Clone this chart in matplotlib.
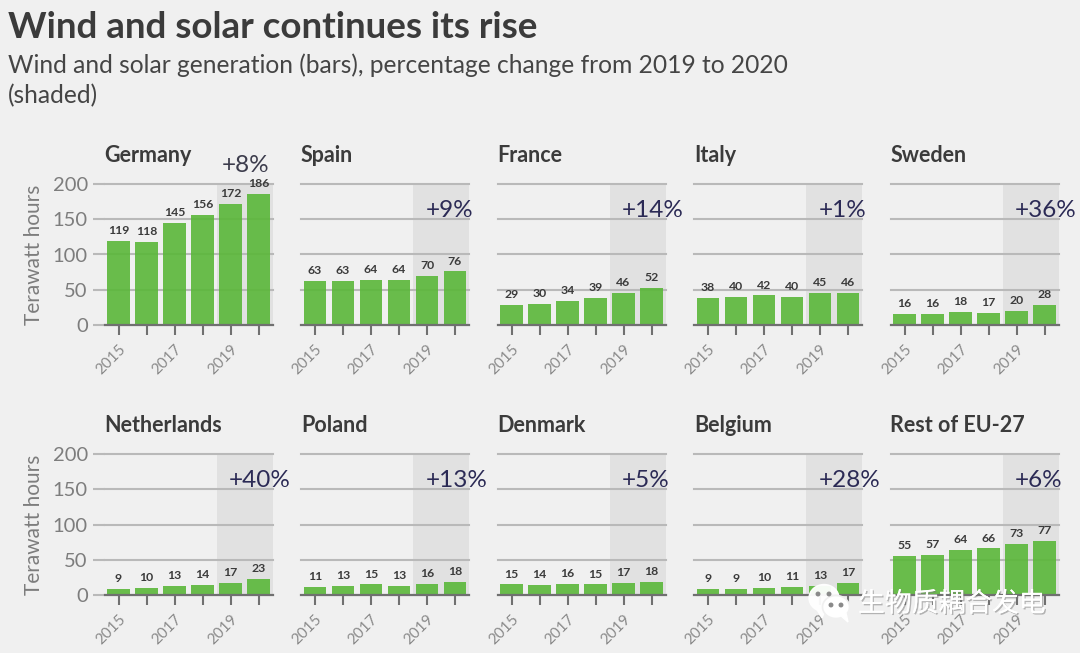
import matplotlib
matplotlib.use("Agg")
import matplotlib.pyplot as plt
import matplotlib.patheffects as pe
from matplotlib.patches import Ellipse, Polygon

plt.rcParams['font.family'] = ['Lato', 'Noto Sans CJK SC', 'DejaVu Sans']

W, H = 1080, 653

years = [2015, 2016, 2017, 2018, 2019, 2020]
year_ticks = [2015, 2017, 2019]
y_ticks = [0, 50, 100, 150, 200]

countries = ["Germany", "Spain", "France", "Italy", "Sweden",
             "Netherlands", "Poland", "Denmark", "Belgium", "Rest of EU-27"]
germany = [119, 118, 145, 156, 172, 186]
spain = [63, 63, 64, 64, 70, 76]
france = [29, 30, 34, 39, 46, 52]
italy = [38, 40, 42, 40, 45, 46]
sweden = [16, 16, 18, 17, 20, 28]
netherlands = [9, 10, 13, 14, 17, 23]
poland = [11, 13, 15, 13, 16, 18]
denmark = [15, 14, 16, 15, 17, 18]
belgium = [9, 9, 10, 11, 13, 17]
rest_eu = [55, 57, 64, 66, 73, 77]
changes = ["+8%", "+9%", "+14%", "+1%", "+36%", "+40%", "+13%", "+5%", "+28%", "+6%"]
series = [germany, spain, france, italy, sweden, netherlands, poland, denmark, belgium, rest_eu]

BG = "#f0f0f0"
GREEN = "#5ab739"
GRID = "#b9b9b9"
SHADE = "#e1e1e1"
DARK = "#3b3b3b"
GREY = "#7d7d7d"
NAVY = "#2b2a55"

panel_left = [104.5, 301, 497.5, 694, 890.5]
panel_w = 168
panel_h = 141
row_bottom = [325, 595]

fig = plt.figure(figsize=(W / 100, H / 100), dpi=100, facecolor=BG)

fig.text(8 / W, 1 - 28 / H, "Wind and solar continues its rise", fontsize=26.5,
         fontweight="bold", color=DARK, va="center", ha="left")
fig.text(8 / W, 1 - 65 / H, "Wind and solar generation (bars), percentage change from 2019 to 2020",
         fontsize=17.7, color="#454545", va="center", ha="left")
fig.text(8 / W, 1 - 96 / H, "(shaded)", fontsize=17.7, color="#454545", va="center", ha="left")

for i, name in enumerate(countries):
    row, col = divmod(i, 5)
    ax = fig.add_axes([panel_left[col] / W, 1 - row_bottom[row] / H, panel_w / W, panel_h / H])
    ax.set_facecolor("none")
    ax.set_xlim(2014.5, 2020.5)
    ax.set_ylim(0, 200)
    for s in ax.spines.values():
        s.set_visible(False)

    ax.axvspan(2018.5, 2020.5, color=SHADE, lw=0, zorder=1)
    for v in y_ticks[1:]:
        ax.axhline(v, color=GRID, lw=1.5, zorder=2, clip_on=False)
    ax.bar(years, series[i], width=0.82, color=GREEN, alpha=0.9, lw=0, zorder=3)
    ax.axhline(0, color="#707070", lw=1.6, zorder=4, clip_on=False)

    for x, v in zip(years, series[i]):
        ax.annotate(str(v), (x, v), xytext=(0, 3.5), textcoords="offset points", ha="center", va="bottom",
                    fontsize=8.8, fontweight="bold", color=DARK, zorder=5)

    ax.set_xticks(years)
    ax.set_xticklabels([str(y) if y in year_ticks else "" for y in years], rotation=45,
                       ha="right", rotation_mode="anchor", fontsize=11, color="#8a8a8a")
    ax.tick_params(axis="x", length=7, width=1.5, color="#707070", pad=5)

    if col == 0:
        ax.set_yticks(y_ticks)
        ax.tick_params(axis="y", length=9, width=1.5, color=GRID, labelsize=14.5, labelcolor=GREY, pad=3)
        ax.set_ylabel("Terawatt hours", fontsize=15, color=GREY, labelpad=6)
    else:
        ax.set_yticks([])

    if i == 0:
        ax.text(2018.7, 226, changes[i], fontsize=17.5, color="#3c3c4c", ha="left", va="center", zorder=6)
    else:
        ax.text(2018.94, 162, changes[i], fontsize=17.5, color=NAVY, ha="left", va="center",
                zorder=6, clip_on=False)
    ax.text(0, 1.2, name, transform=ax.transAxes, fontsize=15.5, fontweight="bold", color=DARK,
            ha="left", va="center")

# watermark
over = fig.add_axes([0, 0, 1, 1], facecolor="none")
over.set_xlim(0, W)
over.set_ylim(H, 0)
over.axis("off")
over.add_patch(Ellipse((824, 598), 30, 27, color="white", alpha=0.95, zorder=10))
over.add_patch(Polygon([[816, 608], [822, 618], [826, 608]], color="white", alpha=0.95, zorder=10))
over.add_patch(Ellipse((836, 607), 27, 23, facecolor="white", edgecolor=BG, lw=1.2, zorder=11))
over.add_patch(Polygon([[840, 615], [848, 622], [846, 613]], color="white", zorder=11))
for ex, ey, z in [(818, 594, 12), (829, 594, 12), (831, 605, 12), (841, 605, 12)]:
    over.add_patch(Ellipse((ex, ey), 3.5, 3.5, color="#8a8a8a", zorder=z))
over.text(858, 604, "生物质耦合发电", fontsize=19.3, color="white", va="center", ha="left",
          family=['Noto Sans CJK SC', 'DejaVu Sans'], zorder=12,
          path_effects=[pe.withSimplePatchShadow(offset=(1, -1), shadow_rgbFace="#777777", alpha=0.5), pe.Normal()])

fig.savefig("out.png", dpi=100, facecolor=BG)
